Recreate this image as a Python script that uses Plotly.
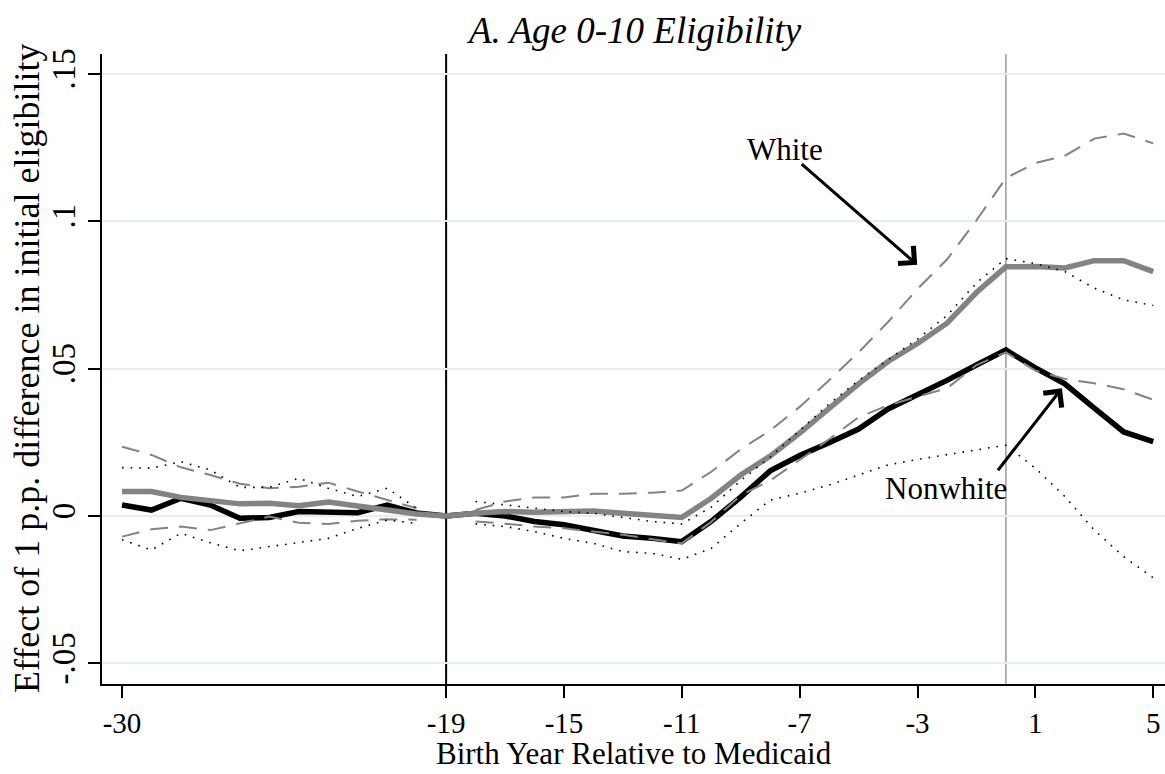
import plotly.graph_objects as go

# Birth year relative to Medicaid introduction
years = list(range(-30, 6))

# Effect estimates and 95% confidence bounds (reference year -19 normalised to 0)
white_est = [0.0083, 0.0083, 0.0063, 0.0052, 0.0041, 0.0043, 0.0035, 0.0047, 0.0032, 0.0020,
             0.0007, 0.0000, 0.0009, 0.0015, 0.0013, 0.0013, 0.0017, 0.0009, 0.0000, -0.0005,
             0.0060, 0.0139, 0.0203, 0.0281, 0.0365, 0.0448, 0.0524, 0.0585, 0.0654, 0.0758,
             0.0845, 0.0846, 0.0841, 0.0866, 0.0866, 0.0829]
white_hi = [0.0235, 0.0207, 0.0165, 0.0139, 0.0109, 0.0094, 0.0099, 0.0113, 0.0083, 0.0054,
            0.0026, None, 0.0020, 0.0049, 0.0063, 0.0063, 0.0075, 0.0075, 0.0079, 0.0086,
            0.0150, 0.0226, 0.0290, 0.0370, 0.0460, 0.0555, 0.0658, 0.0770, 0.0870, 0.1003,
            0.1146, 0.1197, 0.1222, 0.1280, 0.1297, 0.1264]
white_lo = [-0.0070, -0.0045, -0.0036, -0.0048, -0.0025, -0.0002, -0.0023, -0.0027, -0.0016, -0.0011,
            -0.0013, None, -0.0019, -0.0026, -0.0036, -0.0042, -0.0053, -0.0064, -0.0079, -0.0093,
            -0.0020, 0.0070, 0.0120, 0.0190, 0.0260, 0.0335, 0.0375, 0.0405, 0.0433, 0.0512,
            0.0555, 0.0493, 0.0465, 0.0450, 0.0430, 0.0394]

nonwhite_est = [0.0037, 0.0020, 0.0060, 0.0037, -0.0008, -0.0005, 0.0015, 0.0011, 0.0011, 0.0037,
                0.0010, 0.0000, 0.0009, 0.0000, -0.0019, -0.0030, -0.0048, -0.0068, -0.0076, -0.0087,
                -0.0018, 0.0064, 0.0153, 0.0205, 0.0248, 0.0295, 0.0363, 0.0410, 0.0460, 0.0512,
                0.0563, 0.0502, 0.0448, 0.0366, 0.0285, 0.0252]
nonwhite_hi = [0.0164, 0.0162, 0.0184, 0.0156, 0.0097, 0.0097, 0.0128, 0.0094, 0.0066, 0.0094,
               0.0026, None, 0.0049, 0.0037, 0.0026, 0.0015, 0.0009, -0.0005, -0.0019, -0.0027,
               0.0030, 0.0120, 0.0200, 0.0290, 0.0380, 0.0460, 0.0530, 0.0600, 0.0680, 0.0790,
               0.0873, 0.0856, 0.0829, 0.0773, 0.0733, 0.0714]
nonwhite_lo = [-0.0081, -0.0115, -0.0059, -0.0091, -0.0118, -0.0104, -0.0091, -0.0076, -0.0042, -0.0014,
               -0.0025, None, -0.0027, -0.0036, -0.0053, -0.0076, -0.0093, -0.0121, -0.0127, -0.0147,
               -0.0110, -0.0025, 0.0054, 0.0077, 0.0105, 0.0139, 0.0173, 0.0192, 0.0207, 0.0224,
               0.0240, 0.0162, 0.0066, -0.0048, -0.0138, -0.0210]

x_ticks = [-30, -19, -15, -11, -7, -3, 1, 5]
x_tick_text = ["-30", "-19", "-15", "-11", "-7", "-3", "1", "5"]
y_ticks = [-0.05, 0, 0.05, 0.1, 0.15]
y_tick_text = ["-.05", "0", ".05", ".1", ".15"]

# Reference lines
ref_year_line = -19
medicaid_year_line = 0

FONT = "Liberation Serif"
GRAY = "#838383"

fig = go.Figure()

fig.add_trace(go.Scatter(x=years, y=nonwhite_est, mode="lines", name="Nonwhite",
                         line=dict(color="black", width=5.5)))
fig.add_trace(go.Scatter(x=years, y=white_est, mode="lines", name="White",
                         line=dict(color=GRAY, width=5.5)))
for series in (white_hi, white_lo):
    fig.add_trace(go.Scatter(x=years, y=series, mode="lines", connectgaps=False,
                             line=dict(color=GRAY, width=2, dash="18px,11px")))
for series in (nonwhite_hi, nonwhite_lo):
    fig.add_trace(go.Scatter(x=years, y=series, mode="lines", connectgaps=False,
                             line=dict(color="black", width=1.6, dash="1.6px,7px")))

shapes = [
    dict(type="line", xref="paper", x0=0, x1=1, yref="y", y0=0, y1=0,
         line=dict(color="black", width=2), layer="below"),
    dict(type="line", xref="x", x0=ref_year_line, x1=ref_year_line, yref="paper", y0=0, y1=1,
         line=dict(color="black", width=2), layer="below"),
    dict(type="line", xref="x", x0=medicaid_year_line, x1=medicaid_year_line, yref="paper", y0=0, y1=1,
         line=dict(color="#9a9a9a", width=1.5), layer="below"),
]

annotations = [
    dict(text="<i>A. Age 0-10 Eligibility</i>", xref="paper", yref="paper", x=0.5, y=1,
         xanchor="center", yanchor="middle", yshift=24, showarrow=False,
         font=dict(family=FONT, size=37, color="black")),
    dict(text="Birth Year Relative to Medicaid", xref="paper", yref="paper", x=0.5, y=0,
         xanchor="center", yanchor="bottom", yshift=-89, showarrow=False,
         font=dict(family=FONT, size=31, color="black")),
    dict(text="Effect of 1 p.p. difference in initial eligibility", xref="paper", yref="paper",
         x=0, y=0.5, xanchor="center", yanchor="middle", xshift=-75, textangle=-90,
         showarrow=False, font=dict(family=FONT, size=36, color="black")),
    # group labels
    dict(text="White", xref="x", yref="y", x=-7.51, y=0.1242, showarrow=False,
         xanchor="center", yanchor="middle", font=dict(family=FONT, size=31, color="black")),
    dict(text="Nonwhite", xref="x", yref="y", x=-2.04, y=0.0092, showarrow=False,
         xanchor="center", yanchor="middle", font=dict(family=FONT, size=31, color="black")),
    # arrows pointing to each group's estimate line
    dict(text="", xref="x", yref="y", x=-3.01, y=0.0852, axref="x", ayref="y",
         ax=-6.98, ay=0.1198, showarrow=True, arrowhead=4, arrowsize=1.5, arrowwidth=3,
         arrowcolor="black", standoff=0, startstandoff=0),
    dict(text="", xref="x", yref="y", x=1.90, y=0.0433, axref="x", ayref="y",
         ax=-0.31, ay=0.0150, showarrow=True, arrowhead=4, arrowsize=1.5, arrowwidth=3,
         arrowcolor="black", standoff=0, startstandoff=0),
]

fig.update_layout(
    width=1165, height=774,
    margin=dict(l=102, r=0, t=54, b=90, pad=0),
    paper_bgcolor="white", plot_bgcolor="white",
    showlegend=False,
    font=dict(family=FONT, color="black"),
    shapes=shapes,
    annotations=annotations,
    xaxis=dict(range=[-30.68, 5.4], tickvals=x_ticks, ticktext=x_tick_text,
               ticks="outside", ticklen=12, ticklabelstandoff=0,
               tickwidth=1.5, tickcolor="black", showline=True, linecolor="black",
               linewidth=2, showgrid=False, zeroline=False,
               tickfont=dict(family=FONT, size=29, color="black")),
    yaxis=dict(range=[-0.057, 0.1567], tickvals=y_ticks, ticktext=y_tick_text,
               tickangle=-90, ticks="outside", ticklen=12, tickwidth=1.5, tickcolor="black",
               showline=True, linecolor="black", linewidth=2, showgrid=True,
               gridcolor="#e6eff0", gridwidth=2, zeroline=False,
               tickfont=dict(family=FONT, size=33, color="black")),
)

fig.write_html("out.html")
